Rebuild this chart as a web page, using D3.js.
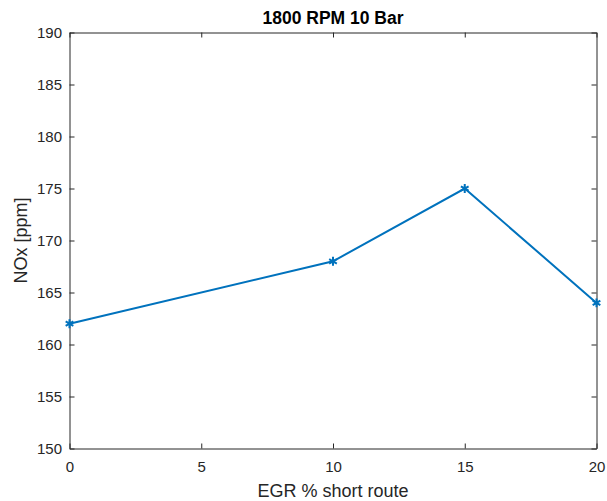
<!DOCTYPE html>
<html>
<head>
<meta charset="utf-8">
<script src="https://cdn.jsdelivr.net/npm/d3@7"></script>
<style>
  body { margin: 0; background: #fff; }
  text { font-family: "Liberation Sans", Arial, sans-serif; }
</style>
</head>
<body>
<script>
let egr = [0, 10, 15, 20];
let nox = [162, 168, 175, 164];
let xTicks = [0, 5, 10, 15, 20];
let yTicks = [150, 155, 160, 165, 170, 175, 180, 185, 190];

let W = 607, H = 501;
let margin = {left: 69.5, right: 10.5, top: 32.5, bottom: 52.5};
let width = W - margin.left - margin.right;
let height = H - margin.top - margin.bottom;

let svg = d3.select("body").append("svg").attr("width", W).attr("height", H);

let x = d3.scaleLinear().domain([0, 20]).range([0, width]);
let y = d3.scaleLinear().domain([150, 190]).range([height, 0]);

let g = svg.append("g").attr("transform", "translate(" + margin.left + "," + margin.top + ")");

let axisColor = "#262626";

// axes with inward ticks
let xAxis = d3.axisBottom(x).tickValues(xTicks).tickSize(-5).tickPadding(13).tickSizeOuter(0);
let yAxis = d3.axisLeft(y).tickValues(yTicks).tickSize(-5).tickPadding(7.5).tickSizeOuter(0);
let xTop = d3.axisTop(x).tickValues(xTicks).tickSize(-5).tickFormat("").tickSizeOuter(0);
let yRight = d3.axisRight(y).tickValues(yTicks).tickSize(-5).tickFormat("").tickSizeOuter(0);

function styleAxis(sel) {
  sel.selectAll("path, line").attr("stroke", axisColor);
  sel.selectAll("text").attr("fill", axisColor).style("font-size", "15px")
     .style("font-family", "'Liberation Sans', Arial, sans-serif");
}

g.append("g").attr("transform", "translate(0," + height + ")").call(xAxis).call(styleAxis);
g.append("g").call(yAxis).call(styleAxis);
g.append("g").call(xTop).call(styleAxis);
g.append("g").attr("transform", "translate(" + width + ",0)").call(yRight).call(styleAxis);

// line
let line = d3.line().x((d, i) => x(egr[i])).y(d => y(d));
g.append("path").attr("d", line(nox))
  .attr("fill", "none").attr("stroke", "#0072BD").attr("stroke-width", 2);

// asterisk markers
let star = d3.symbol().type(d3.symbolAsterisk).size(55);
g.selectAll("path.marker").data(nox).enter().append("path")
  .attr("class", "marker")
  .attr("transform", (d, i) => "translate(" + x(egr[i]) + "," + y(d) + ")")
  .attr("d", star)
  .attr("fill", "none").attr("stroke", "#0072BD").attr("stroke-width", 2);

// titles
svg.append("text").attr("x", margin.left + width / 2).attr("y", 24)
  .attr("text-anchor", "middle").attr("font-weight", "bold").attr("font-size", 17.5)
  .attr("fill", "#000").text("1800 RPM 10 Bar");

svg.append("text").attr("x", margin.left + width / 2).attr("y", 497)
  .attr("text-anchor", "middle").attr("font-size", 18)
  .attr("fill", axisColor).text("EGR % short route");

svg.append("text").attr("transform", "translate(27," + (margin.top + height / 2) + ") rotate(-90)")
  .attr("text-anchor", "middle").attr("font-size", 18)
  .attr("fill", axisColor).text("NOx [ppm]");
</script>
</body>
</html>
